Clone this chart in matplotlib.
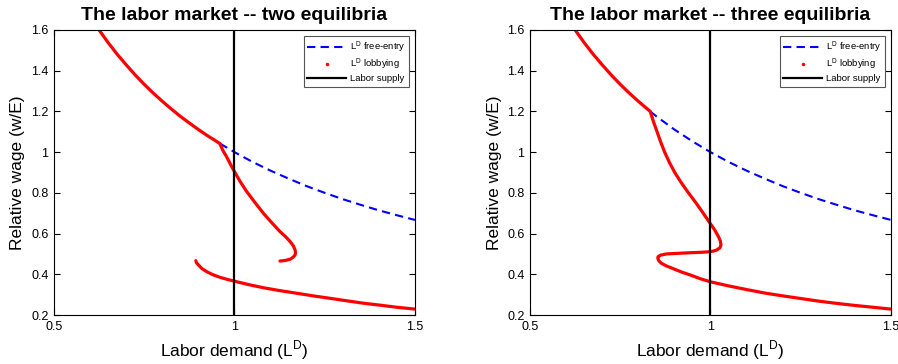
import matplotlib
matplotlib.use("Agg")
import matplotlib.pyplot as plt
from matplotlib.lines import Line2D

plt.rcParams['font.family'] = ['Liberation Sans', 'DejaVu Sans']

# Free-entry labor demand (w/E against L)
free_L_two = [0.96, 1.0, 1.05, 1.1, 1.15, 1.2, 1.25, 1.3, 1.35, 1.4, 1.45, 1.5]
free_w_two = [1.042, 1.0, 0.952, 0.909, 0.870, 0.833, 0.800, 0.769, 0.741, 0.714, 0.690, 0.667]
free_L_three = [0.833, 0.85, 0.9, 0.95, 1.0, 1.05, 1.1, 1.15, 1.2, 1.25, 1.3, 1.35, 1.4, 1.45, 1.5]
free_w_three = [1.2, 1.176, 1.111, 1.053, 1.0, 0.952, 0.909, 0.870, 0.833, 0.800, 0.769, 0.741,
                0.714, 0.690, 0.667]

# Lobbying labor demand, two-equilibria case
lob_up_L_two = [0.625, 0.65, 0.675, 0.7, 0.725, 0.75, 0.775, 0.8, 0.825, 0.85, 0.875, 0.9,
                0.925, 0.96]
lob_up_w_two = [1.6, 1.538, 1.481, 1.429, 1.379, 1.333, 1.290, 1.25, 1.212, 1.176, 1.143, 1.111,
                1.081, 1.042]
lob_mid_L_two = [0.96, 0.968, 0.978, 0.989, 1.0, 1.016, 1.034, 1.057, 1.080, 1.103, 1.126,
                 1.142, 1.154, 1.163, 1.168, 1.169, 1.168, 1.162, 1.154, 1.141, 1.126]
lob_mid_w_two = [1.040, 1.008, 0.978, 0.940, 0.904, 0.855, 0.806, 0.752, 0.700, 0.654, 0.610,
                 0.584, 0.561, 0.540, 0.519, 0.506, 0.495, 0.483, 0.474, 0.468, 0.465]
lob_low_L_two = [0.893, 0.895, 0.900, 0.910, 0.923, 0.940, 0.960, 0.980, 1.0, 1.040, 1.080,
                 1.125, 1.172, 1.218, 1.265, 1.310, 1.357, 1.405, 1.450, 1.5]
lob_low_w_two = [0.467, 0.456, 0.446, 0.428, 0.413, 0.398, 0.385, 0.375, 0.366, 0.349, 0.334,
                 0.320, 0.307, 0.294, 0.282, 0.270, 0.258, 0.248, 0.238, 0.229]

# Lobbying labor demand, three-equilibria case
lob_up_L_three = [0.625, 0.65, 0.675, 0.7, 0.725, 0.75, 0.775, 0.8, 0.833]
lob_up_w_three = [1.6, 1.538, 1.481, 1.429, 1.379, 1.333, 1.290, 1.25, 1.2]
lob_low_L_three = [0.833, 0.842, 0.852, 0.862, 0.873, 0.886, 0.901, 0.919, 0.939, 0.960, 0.980,
                   0.999, 1.012, 1.022, 1.027, 1.029, 1.026, 1.017, 1.008, 0.999, 0.975, 0.945,
                   0.910, 0.878, 0.862, 0.855, 0.854, 0.857, 0.864, 0.878, 0.896, 0.920,
                   0.945, 0.972, 1.0, 1.05, 1.10, 1.15, 1.20, 1.25, 1.30, 1.35, 1.40, 1.45, 1.5]
lob_low_w_three = [1.2, 1.15, 1.10, 1.05, 1.0, 0.95, 0.90, 0.85, 0.80, 0.75, 0.70,
                   0.650, 0.617, 0.585, 0.565, 0.544, 0.530, 0.519, 0.514, 0.511, 0.508, 0.506,
                   0.503, 0.500, 0.494, 0.487, 0.479, 0.466, 0.454, 0.441, 0.428, 0.411,
                   0.396, 0.378, 0.363, 0.343, 0.325, 0.308, 0.294, 0.281, 0.268, 0.257,
                   0.247, 0.238, 0.229]

supply_L = [1.0, 1.0]
supply_w = [0.2, 1.6]

titles = ["The labor market -- two equilibria", "The labor market -- three equilibria"]
xticks = [0.5, 1.0, 1.5]
xticklabels = ["0.5", "1", "1.5"]
yticks = [0.2, 0.4, 0.6, 0.8, 1.0, 1.2, 1.4, 1.6]
yticklabels = ["0.2", "0.4", "0.6", "0.8", "1", "1.2", "1.4", "1.6"]

fig = plt.figure(figsize=(8.98, 3.64), dpi=100)
ax1 = fig.add_axes([0.0601, 0.1346, 0.402, 0.783])
ax2 = fig.add_axes([0.5902, 0.1346, 0.402, 0.783])

panels = [
    (ax1, free_L_two, free_w_two, [(lob_up_L_two, lob_up_w_two), (lob_mid_L_two, lob_mid_w_two),
                                   (lob_low_L_two, lob_low_w_two)]),
    (ax2, free_L_three, free_w_three, [(lob_up_L_three, lob_up_w_three),
                                       (lob_low_L_three, lob_low_w_three)]),
]

dash = (0, (4, 2.5))
for (ax, fl, fw, lob), title in zip(panels, titles):
    ax.plot(fl, fw, color='#0000ff', ls=dash, lw=1.5)
    for lx, lw_ in lob:
        ax.plot(lx, lw_, color='red', lw=2.3, solid_capstyle='round', solid_joinstyle='round')
    ax.plot(supply_L, supply_w, color='black', lw=1.6)
    ax.set_xlim(0.5, 1.5)
    ax.set_ylim(0.2, 1.6)
    ax.set_xticks(xticks)
    ax.set_xticklabels(xticklabels)
    ax.set_yticks(yticks)
    ax.set_yticklabels(yticklabels)
    ax.tick_params(direction='in', top=True, right=True, labelsize=9, length=4, pad=4)
    for s in ax.spines.values():
        s.set_linewidth(0.8)
    ax.set_title(title, fontsize=14, fontweight='bold', pad=7)
    ax.set_xlabel("Labor demand (L$^\\mathregular{D}$)", fontsize=12.5, labelpad=4)
    ax.set_ylabel("Relative wage (w/E)", fontsize=12.5, labelpad=4)
    handles = [
        Line2D([], [], color='#0000ff', ls=dash, lw=1.5),
        Line2D([], [], color='red', marker='.', ls='none', markersize=3),
        Line2D([], [], color='black', lw=1.6),
    ]
    labels = ["L$^\\mathregular{D}$ free-entry", "L$^\\mathregular{D}$ lobbying", "Labor supply"]
    leg = ax.legend(handles, labels, loc='upper right', fontsize=6.8, fancybox=False,
                    framealpha=1, edgecolor='#555555', borderpad=0.4, handlelength=4.1,
                    labelspacing=0.2, handletextpad=0.4, borderaxespad=0.6)
    leg.get_frame().set_linewidth(0.8)

fig.savefig("out.png", dpi=100)
